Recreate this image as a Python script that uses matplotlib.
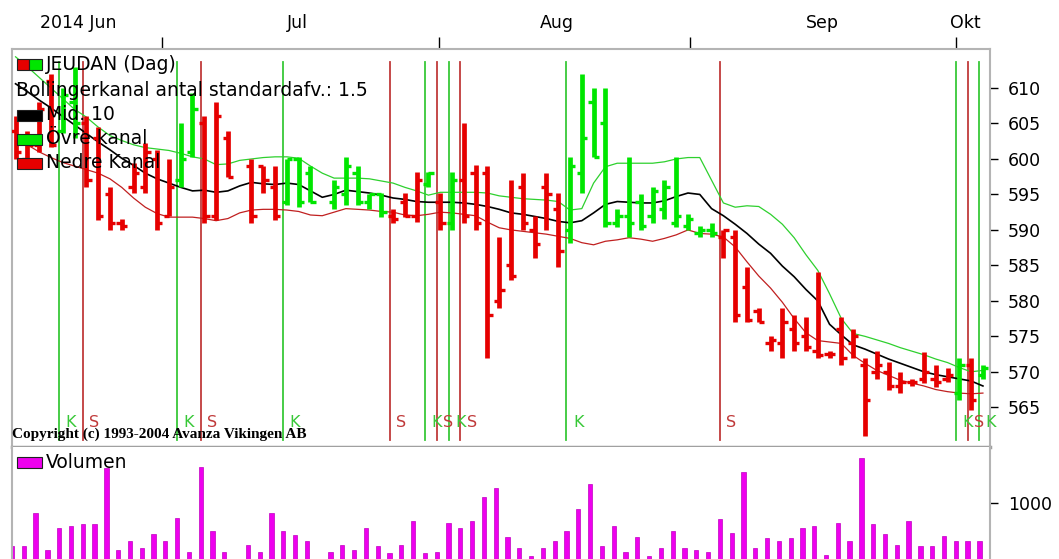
import numpy as np
import matplotlib
matplotlib.use('Agg')
import matplotlib.pyplot as plt
from matplotlib.patches import Rectangle

nan = np.nan

# daily bars, index 0 = first day shown (mid June 2014); 19 and 26 are holes in the data
high = [606, 604, 608, 612, 610, 613, 606, 604.5, 596, 591.5,
        599.4, 602.2, 601.3, 600, 605, 609.3, 606, 608, 604, nan,
        600, 599, 599, 600, 600.3, 599, nan, 597, 600.3, 599,
        595, 595.2, 593, 595.2, 598.2, 598.2, 595.2, 598.2, 605, 599.1,
        599, 589, 597, 598, 592, 598, 595.2, 600.3, 612, 610,
        610, 593, 600.3, 595, 596, 597, 600.3, 592.2, 590.5, 591,
        590, 590, 584.8, 579, 575, 579, 578, 577.7, 584, 573,
        577.7, 576, 572, 573, 571.4, 570, 569, 572.8, 571, 570.5,
        572, 572, 571]
low = [600, 599, 601, 601.7, 603.7, 603, 596, 591.4, 590, 590,
       595.2, 595.2, 590, 592, 596, 600.3, 591, 591.4, 597.4, nan,
       591, 595.2, 591.4, 593.5, 593.2, 594, nan, 593, 593.5, 593.5,
       593, 591.8, 591, 591.8, 591.1, 596, 590, 590, 591, 590,
       572, 579, 583, 590, 586, 590, 584.8, 588.1, 595.2, 600.3,
       590.4, 590.4, 589, 590, 591, 591.5, 590.4, 590, 589, 589,
       586, 577, 577, 577, 573, 572, 573, 573, 572, 572,
       571, 572, 561, 569, 567.5, 567, 568, 568.4, 567.8, 568.5,
       566, 564.6, 569]
open_ = [604, 600, 602, 611, 604, 608, 605, 603, 595, 591,
         596, 596, 600, 592, 597, 601, 605, 592, 603, nan,
         599, 599, 596, 594, 600, 598, nan, 594, 595, 598,
         594, 595, 592, 594, 592, 596.5, 594, 591, 597, 598,
         598, 580, 585, 596, 590, 596, 593, 590, 598, 608,
         605, 591, 592, 594, 592, 593, 591, 590.5, 589.5, 590,
         589, 589, 582, 578.5, 574, 574, 576, 575, 573, 572.5,
         576, 574, 571, 570, 570, 568, 568.5, 569, 569, 569,
         567, 571, 569.5]
close = [601, 602, 607, 602, 609, 605, 597, 592, 591, 590.5,
         598, 601, 591, 596, 600, 607, 592, 606, 597.4, nan,
         592, 597, 592, 600, 594, 594, nan, 596, 599, 594,
         595, 592.5, 591.5, 592, 597, 598, 591, 597, 592, 591,
         578, 581.5, 583.5, 591, 588, 595, 587, 599, 603, 600.3,
         591, 592, 591, 590.5, 595.5, 596, 592, 591.5, 590, 589.5,
         590, 578, 577.3, 577, 574.5, 577, 574, 573.5, 572.3, 572.5,
         572, 575, 566, 571, 568, 568.5, 568.5, 570, 568.5, 569.5,
         571, 566, 570.5]

# Bollinger channel (10 days, 1.5 std)
mid = [610.6, 609.5, 608.3, 607.2, 606.0, 604.8, 603.6, 602.4, 601.3, 600.1,
       599.1, 598.0, 597.2, 596.6, 596.0, 595.5, 595.6, 595.3, 595.5, 596.2,
       596.7, 596.5, 596.4, 596.6, 596.4, 595.5, 594.6, 595.0, 595.6, 595.4,
       595.2, 594.9, 594.5, 594.3, 594.0, 593.9, 593.9, 593.9, 593.8, 593.6,
       593.3, 592.9, 592.4, 592.2, 591.9, 591.6, 591.2, 591.0, 591.3, 592.4,
       593.6, 594.0, 593.9, 593.8, 593.8, 594.1, 594.7, 595.2, 595.0, 593.0,
       592.0, 590.8, 589.5, 588.0, 586.7, 584.9, 583.4, 581.6, 580.0, 576.7,
       575.2, 573.8, 573.2, 572.5, 571.8, 571.2, 570.6, 570.0, 569.6, 569.3,
       569.0, 568.7, 568.0]
upper = [614.4, 613.0, 611.5, 610.0, 608.5, 607.0, 605.9, 604.5, 603.3, 602.6,
         602.0, 601.6, 601.4, 601.2, 600.8, 600.3, 600.0, 599.2, 599.3, 599.8,
         600.0, 600.2, 600.3, 600.3, 600.1, 599.0, 598.0, 597.3, 597.3, 597.3,
         597.2, 596.9, 596.6, 596.0, 595.5, 594.9, 595.3, 595.3, 595.3, 595.3,
         595.2, 594.8, 594.6, 594.4, 594.3, 594.2, 594.0, 592.8, 593.0, 596.6,
         598.9, 599.4, 599.4, 599.4, 599.4, 599.6, 600.0, 600.2, 600.2, 597.0,
         593.8, 593.2, 593.4, 593.3, 592.2, 590.8, 588.9, 586.5, 584.3, 581.0,
         577.5, 575.4, 575.0, 574.5, 574.0, 573.4, 572.9, 572.4, 571.8, 571.3,
         570.6, 570.0, 570.2]
lower = [603.0, 602.0, 601.0, 600.2, 599.5, 599.0, 598.5, 598.0, 597.2, 596.0,
         594.5, 593.2, 592.3, 591.8, 591.8, 591.8, 591.6, 591.3, 591.6, 592.4,
         592.8, 592.9, 592.9, 592.8, 592.6, 592.1, 592.0, 592.5, 593.0, 592.9,
         592.8, 592.6, 592.5, 592.1, 592.0, 592.2, 592.5, 592.4, 592.2, 592.0,
         591.1, 590.3, 590.0, 589.8, 589.6, 589.4, 589.1, 588.8, 588.2, 587.9,
         588.4, 588.6, 588.9, 588.7, 588.4, 588.8, 589.3, 590.0, 589.5, 589.4,
         589.0, 587.6, 585.5, 583.5, 581.8, 579.8, 577.5, 575.5, 574.4, 574.2,
         574.0, 572.3, 571.2, 570.2, 569.5, 568.8, 568.4, 568.0, 567.5, 567.2,
         567.0, 566.9, 567.0]

volume = [232, 232, 820, 160, 550, 590, 625, 620, 1630, 160,
          320, 190, 440, 320, 730, 130, 1640, 500, 130, nan,
          250, 130, 830, 500, 430, 320, nan, 130, 250, 160,
          550, 230, 100, 250, 680, 100, 130, 650, 550, 680,
          1110, 1260, 400, 200, 60, 200, 320, 500, 890, 1340,
          230, 590, 130, 400, 50, 190, 500, 190, 160, 130,
          720, 470, 1550, 190, 380, 320, 380, 550, 590, 70,
          650, 320, 1810, 620, 440, 250, 680, 230, 230, 410,
          320, 320, 320]

buy_days = [4, 14, 23, 35, 37, 47, 80, 82]     # K
sell_days = [6, 16, 32, 36, 38, 60, 81]        # S

month_bounds = [12.4, 35.9, 57.2, 79.7]
month_names = ['2014 Jun', 'Jul', 'Aug', 'Sep', 'Okt']
month_centers = [5.3, 23.9, 45.9, 68.4, 80.5]

GREEN = '#00e600'
RED = '#e60000'
SIG_GREEN = '#38c838'
SIG_RED = '#c03a3a'
FRAME = '#b4b4b4'

plt.rcParams['font.family'] = ['DejaVu Sans']

x = np.arange(len(high))
state = 'S'
colors = []
for d in x:
    if d in buy_days:
        state = 'K'
    elif d in sell_days:
        state = 'S'
    colors.append(GREEN if state == 'K' else RED)

fig = plt.figure(figsize=(10.59, 5.59), dpi=100)
W, H = 1059, 559
ax = fig.add_axes([12 / W, 1 - 447 / H, 978 / W, 398 / H])
axv = fig.add_axes([12 / W, 0, 978 / W, 112 / H])

xlim = (-0.3, 82.6)

# signal lines
for d in buy_days:
    ax.axvline(d - 0.3, ymin=0.018, ymax=0.967, color=SIG_GREEN, lw=1.3, zorder=1)
    ax.text(d + 0.25, 562.9, 'K', color=SIG_GREEN, fontsize=11.5, va='center', ha='left')
for d in sell_days:
    ax.axvline(d - 0.3, ymin=0.018, ymax=0.967, color=SIG_RED, lw=1.3, zorder=1)
    ax.text(d + 0.25, 562.9, 'S', color=SIG_RED, fontsize=11.5, va='center', ha='left')

# bollinger lines
ax.plot(x, upper, color='#2ed02e', lw=0.9, zorder=2)
ax.plot(x, lower, color='#c02020', lw=0.9, zorder=2)
ax.plot(x, mid, color='black', lw=1.2, zorder=2)

# OHLC bars
ax.vlines(x, low, high, colors=colors, lw=3.4, zorder=3)
ax.hlines(open_, x - 0.45, x, colors=colors, lw=2.4, zorder=3)
ax.hlines(close, x, x + 0.45, colors=colors, lw=2.4, zorder=3)

ax.set_xlim(*xlim)
ax.set_ylim(559.4, 615.5)
ax.yaxis.tick_right()
ax.set_yticks(np.arange(565, 611, 5))
ax.tick_params(axis='y', length=6, width=1, pad=7, labelsize=12.5, direction='out')
ax.xaxis.tick_top()
ax.set_xticks(month_bounds)
ax.set_xticklabels([])
ax.set_xticks(month_centers, minor=True)
ax.set_xticklabels(month_names, minor=True)
ax.tick_params(axis='x', which='major', length=9, width=1, direction='out')
ax.tick_params(axis='x', which='minor', length=0, pad=12, labelsize=12.5)
for s in ax.spines.values():
    s.set_color(FRAME)
    s.set_linewidth(1.5)
ax.spines['bottom'].set_linewidth(2.5)
ax.spines['bottom'].set_color('#a0a0a0')

# legend drawn by hand, in pixel units converted to axes fraction
def fx(px):
    return (px - 12) / 978

def fy(py):
    return (447 - py) / 398

def box(px, py, color, w=25, h=11):
    ax.add_patch(Rectangle((fx(px), fy(py + h / 2)), w / 978, h / 398,
                           transform=ax.transAxes, facecolor=color, edgecolor='#202020',
                           lw=0.8, zorder=5))

ax.add_patch(Rectangle((fx(17), fy(70)), 12 / 978, 11 / 398, transform=ax.transAxes,
                       facecolor=RED, edgecolor='#202020', lw=0.8, zorder=5))
ax.add_patch(Rectangle((fx(29), fy(70)), 13 / 978, 11 / 398, transform=ax.transAxes,
                       facecolor=GREEN, edgecolor='#202020', lw=0.8, zorder=5))
legend_rows = [(64, 'JEUDAN (Dag)', None), (90, 'Bollingerkanal antal standardafv.: 1.5', None),
               (115, 'Mid. 10', 'black'), (139, 'Övre kanal', GREEN), (163, 'Nedre Kanal', RED)]
for py, label, col in legend_rows:
    if label.startswith('Bollinger'):
        ax.text(fx(16), fy(py), label, transform=ax.transAxes, fontsize=13.5, va='center', zorder=6)
        continue
    if col is not None:
        box(17, py, col)
    ax.text(fx(46), fy(py), label, transform=ax.transAxes, fontsize=13.5, va='center', zorder=6)

ax.text(fx(12), fy(434), 'Copyright (c) 1993-2004 Avanza Vikingen AB', transform=ax.transAxes,
        fontsize=11, family='Liberation Serif', weight='bold', va='center', ha='left')

# volume panel
axv.bar(x - 0.3, volume, width=0.36, color='#ee00ee', edgecolor='#c000c0', lw=0.5)
axv.set_xlim(*xlim)
axv.set_ylim(0, 2000)
axv.yaxis.tick_right()
axv.set_yticks([1000])
axv.tick_params(axis='y', length=6, width=1, pad=7, labelsize=12.5)
axv.set_xticks([])
for s in axv.spines.values():
    s.set_color(FRAME)
    s.set_linewidth(1.5)
axv.spines['bottom'].set_visible(False)
axv.spines['top'].set_visible(False)
axv.add_patch(Rectangle(((17 - 12) / 978, (559 - 468) / 112), 25 / 978, 11 / 112,
                        transform=axv.transAxes, facecolor='#ee00ee', edgecolor='#202020', lw=0.8))
axv.text((46 - 12) / 978, (559 - 462) / 112, 'Volumen', transform=axv.transAxes,
         fontsize=13.5, va='center')

fig.savefig('out.png', dpi=100)
